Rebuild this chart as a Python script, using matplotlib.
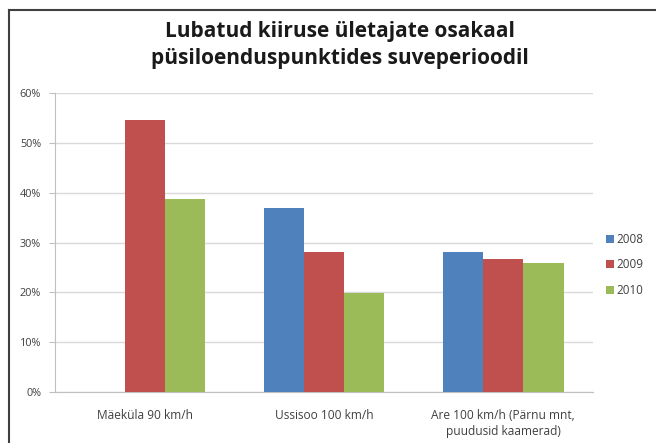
import matplotlib.pyplot as plt
import numpy as np
from matplotlib.lines import Line2D

# andmed
kohad = ['Mäeküla 90 km/h', 'Ussisoo 100 km/h', 'Are 100 km/h (Pärnu mnt,\npuudusid kaamerad)']
aastad = ['2008', '2009', '2010']
v2008 = [np.nan, 37.0, 28.0]
v2009 = [54.5, 28.0, 26.6]
v2010 = [38.8, 19.8, 25.8]
varvid = ['#4F81BD', '#C0504D', '#9BBB59']

plt.rcParams['font.family'] = ['Open Sans', 'DejaVu Sans']

fig = plt.figure(figsize=(6.56, 4.43), dpi=100)
ax = fig.add_axes([0.0838, 0.1151, 0.8202, 0.6749])

x = np.arange(len(kohad))
w = 0.224
for i, (vals, lab, c) in enumerate(zip([v2008, v2009, v2010], aastad, varvid)):
    ax.bar(x + (i - 1) * w, vals, w, color=c, label=lab, zorder=3)

ax.set_xlim(-0.5, 2.5)
ax.set_ylim(0, 60)
ax.set_yticks(np.arange(0, 61, 10))
ax.set_yticklabels([f'{t}%' for t in range(0, 61, 10)])
ax.set_xticks(x)
ax.set_xticklabels(kohad, linespacing=1.3)
ax.grid(axis='y', color='#d9d9d9', linewidth=1, zorder=0)
ax.tick_params(axis='y', length=4, color='#bfbfbf', labelsize=7.8, labelcolor='#404040', pad=6)
ax.tick_params(axis='x', length=0, labelsize=8.6, labelcolor='#404040', pad=12)
for s in ['top', 'right']:
    ax.spines[s].set_visible(False)
for s in ['left', 'bottom']:
    ax.spines[s].set_color('#bfbfbf')

ax.legend(loc='center left', bbox_to_anchor=(1.005, 0.425), frameon=False,
          fontsize=8.4, handlelength=0.7, handleheight=0.7, handletextpad=0.2,
          labelspacing=1.05, labelcolor='#404040')

fig.text(0.518, 1 - 37 / 443, 'Lubatud kiiruse ületajate osakaal',
         ha='center', va='baseline', fontsize=15, fontweight='bold', color='#1a1a1a')
fig.text(0.518, 1 - 64 / 443, 'püsiloenduspunktides suveperioodil',
         ha='center', va='baseline', fontsize=15, fontweight='bold', color='#1a1a1a')

# raam ülal ja vasakul
fig.add_artist(Line2D([9 / 656, 1], [1 - 9.5 / 443, 1 - 9.5 / 443], color='#404040', lw=1.5))
fig.add_artist(Line2D([9 / 656, 9 / 656], [0, 1 - 9.5 / 443], color='#404040', lw=1.5))

plt.savefig('out.png', dpi=100)
